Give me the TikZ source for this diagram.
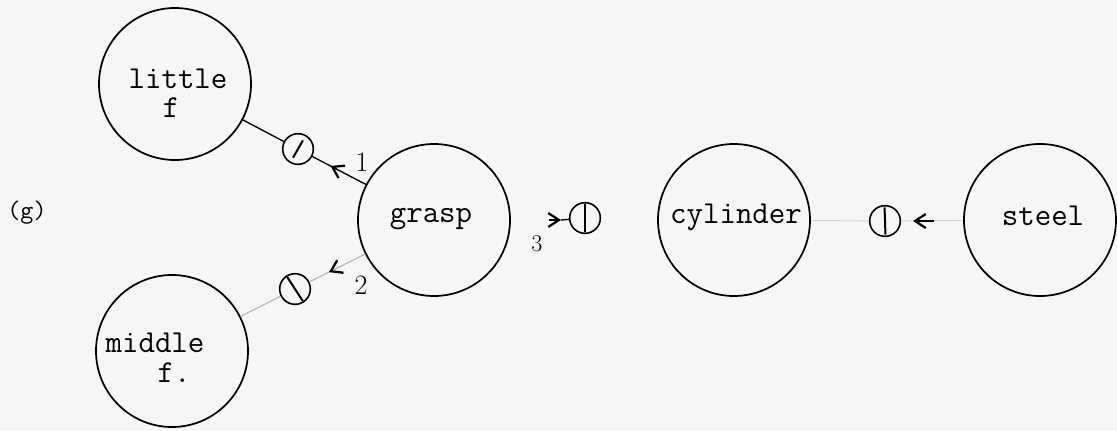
\documentclass[tikz,border=0pt]{standalone}
\usepackage{fontspec}
\usetikzlibrary{arrows.meta,calc}
\definecolor{paper}{RGB}{246,246,244}
\begin{document}
\begin{tikzpicture}[x=0.75pt,y=-0.75pt,
  big/.style={circle,draw,line width=1.3pt,minimum size=114pt,inner sep=0pt},
  tok/.style={circle,draw,line width=1.2pt,minimum size=23pt,inner sep=0pt},
  txt/.style={font=\ttfamily\fontsize{24}{24}\selectfont,anchor=base,inner sep=0pt},
  gtxt/.style={font=\ttfamily\fontsize{19}{19}\selectfont,inner sep=0pt},
  num/.style={font=\fontsize{21}{21}\selectfont,inner sep=0pt},
  bar/.style={line width=1.5pt},
  barb/.style={-{Straight Barb[length=8pt,width=10.5pt,line width=1.7pt,color=black]}},
  dark/.style={line width=1pt,draw=black},
  pale/.style={line width=0.8pt,draw=gray!60},
  faint/.style={line width=0.7pt,draw=gray!35}
]
\fill[paper] (0,0) rectangle (1117,430);
\useasboundingbox (0,0) rectangle (1117,430);

% concept circles
\node[big] (lf) at (175,84) {};
\node[big] (mf) at (172,351) {};
\node[big] (grasp) at (434,220) {};
\node[big] (cyl) at (734,220) {};
\node[big] (steel) at (1040,220) {};

% texts
\node[txt] (tlittle) at (178,88) {little};
\node[txt] (tlf) at (171,117) {f};
\node[txt] (tmiddle) at (155,352) {middle};
\node[txt] (tmf) at (174,382) {f.};
\node[txt] (tgrasp) at (431,222) {grasp};
\node[txt] (tcyl) at (736,223) {cylinder};
\node[txt] (tsteel) at (1043,225) {steel};
\node[gtxt] (glab) at (27,213) {(g)};

% tokens
\node[tok] (t1) at (298,149) {};
\node[tok] (t2) at (295,289) {};
\node[tok] (t3) at (585,218) {};
\node[tok] (t4) at (885,221) {};

\draw[bar] ($(t1.center)!0.62!(t1.60)$) -- ($(t1.center)!0.62!(t1.240)$);
\draw[bar] ($(t2.center)!0.9!(t2.123)$) -- ($(t2.center)!0.9!(t2.303)$);
\draw[bar] ($(t3.center)!0.85!(t3.90)$) -- ($(t3.center)!0.85!(t3.270)$);
\draw[bar] ($(t4.center)!0.85!(t4.92)$) -- ($(t4.center)!0.85!(t4.272)$);

% connector 1
\draw[dark] (lf) -- (t1);
\draw[dark] (grasp) -- (t1) coordinate[pos=0.52] (a1s) coordinate[pos=0.66] (a1t);
\draw[dark,barb] (a1s) -- (a1t);
\node[num] (n1) at (362,162) {1};

% connector 2
\draw[pale] (mf) -- (t2);
\draw[pale] (grasp) -- (t2) coordinate[pos=0.52] (a2s) coordinate[pos=0.65] (a2t);
\draw[pale,barb] (a2s) -- (a2t);
\node[num] (n2) at (361,285) {2};

% connector 3
\coordinate (a3s) at (549,220);
\coordinate (a3t) at (561,220);
\draw[dark] (a3t) -- (t3);
\draw[dark,barb] (a3s) -- (a3t);
\node[num,font=\fontsize{18}{18}\selectfont] (n3) at (537,244) {3};

% connector 4
\draw[faint] (cyl) -- (t4);
\draw[faint] (steel) -- (t4);
\coordinate (a4s) at (934,221);
\coordinate (a4t) at (913,221);
\draw[dark,barb] (a4s) -- (a4t);
\end{tikzpicture}
\end{document}
